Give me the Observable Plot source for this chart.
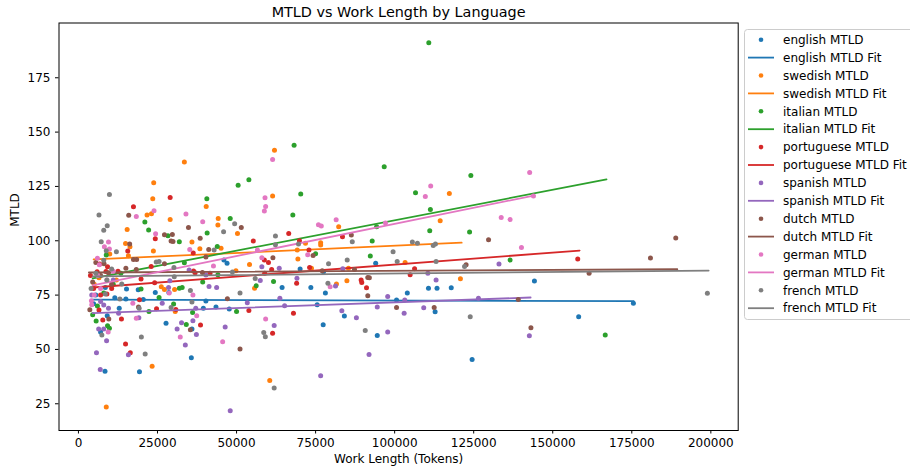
<!DOCTYPE html>
<html>
<head>
<meta charset="utf-8">
<script src="https://cdn.jsdelivr.net/npm/d3@7"></script>
<script src="https://cdn.jsdelivr.net/npm/@observablehq/plot@0.6"></script>
<style>
  html, body { margin: 0; padding: 0; background: #fff; }
  #wrap { position: relative; width: 910px; height: 471px; overflow: hidden; font-family: "DejaVu Sans", sans-serif; }
  #chart { position: absolute; left: 0; top: 0; }
  #legend { position: absolute; left: 744px; top: 29px; }
</style>
</head>
<body>
<div id="wrap"><div id="chart"></div><div id="legend"></div></div>
<script>
const chartTitle = "MTLD vs Work Length by Language";
const xLabel = "Work Length (Tokens)";
const yLabel = "MTLD";
const languages = ["english", "swedish", "italian", "portuguese", "spanish", "dutch", "german", "french"];
const xTicks = [0, 25000, 50000, 75000, 100000, 125000, 150000, 175000, 200000];
const yTicks = [25, 50, 75, 100, 125, 150, 175];

// [work length (tokens), MTLD]
const english = [[15200,77.8],[18900,77.5],[28600,76.2],[64400,78.5],[47000,89.7],[46000,91.1],[15000,73.2],
  [24300,76.2],[12900,68.9],[39500,69.0],[43500,69.5],[47700,68.6],[35900,59.4],[35700,46.2],[8400,40.0],
  [19300,39.7],[7000,58.0],[9100,65.5],[27700,62.1],[40300,72.3],[70100,87.0],[73500,78.5],[77500,85.7],
  [94000,89.7],[78100,76.0],[100600,72.7],[104000,76.0],[110700,78.1],[113400,78.2],[117900,78.4],
  [75500,70.6],[84100,65.4],[112800,67.3],[77400,61.4],[94500,56.4],[124500,45.4],[144200,81.5],
  [175500,71.3],[158200,65.0],[5500,75],[8500,78.5],[11500,73.8],[20500,73.0],[4800,71]];
const swedish = [[33500,136.2],[62000,141.6],[23800,126.7],[23500,119.3],[61400,120.6],[21700,111.8],
  [23100,112.4],[40400,115.8],[29000,109.8],[44200,110.3],[44100,107.2],[15400,105.2],[35900,99.4],
  [50300,103.4],[14900,98.8],[16300,97.2],[9900,93.9],[23700,95.3],[15800,93.1],[38400,96.3],[45100,96.5],
  [54100,89.1],[49800,86.2],[26200,78.8],[27200,77.6],[30400,77.6],[55700,78.2],[30600,67.5],[60500,35.7],
  [8800,23.5],[23300,42.3],[117300,121.8],[114400,109.2],[82300,106.5],[76600,99.1],[76600,98.0],
  [71800,98.9],[69200,95.7],[69400,91.6],[73700,87.4],[85400,87.4],[103300,90.0],[120800,82.5],
  [81600,80.1],[84900,81.6],[5000,80],[6500,83],[12000,82]];
const italian = [[50500,125.6],[53900,128.1],[40600,119.3],[21000,108.6],[48000,110.3],[22200,104.9],
  [28300,102.3],[31900,99.5],[40700,103.6],[43900,97.4],[8800,93.4],[33500,89.9],[13400,85.0],[44100,84.4],
  [61700,81.3],[31900,78.1],[32800,78.5],[19800,77.8],[39300,81.0],[56200,79.3],[25500,73.9],[30100,70.9],
  [22300,67.5],[50000,67.5],[36100,67.0],[34100,61.5],[9200,60.9],[9800,59.7],[5600,63.1],[110800,191.1],
  [68200,143.9],[96700,134.1],[124100,130.0],[106600,122.1],[70300,121.5],[67800,111.8],[111300,114.4],
  [94300,106.5],[92900,99.9],[111100,104.6],[123700,104.0],[75000,94.0],[92300,93.0],[136500,91.1],
  [166600,56.6],[6000,70],[8000,76],[11000,80],[4500,66]];
const portuguese = [[29000,119.9],[17400,115.7],[24300,100.9],[55300,99.9],[66500,103.4],[15600,95.3],
  [36300,94.4],[58800,91.1],[60100,90.0],[23000,88.2],[6700,89.3],[9200,88.0],[8700,85.9],[5900,85.7],
  [36400,86.1],[36900,85.3],[41600,85.0],[61100,86.8],[58900,85.0],[19800,82.4],[24100,80.7],[19300,72.9],
  [30800,68.4],[24700,68.7],[53900,67.9],[38600,61.2],[61400,57.5],[14900,52.5],[16400,48.5],[7700,63.5],
  [13600,64.0],[6500,68.1],[7000,75],[9000,75.5],[83500,101.9],[69900,100.0],[72900,95.7],[73100,87.7],
  [106300,87.1],[104900,84.4],[69000,80.4],[89400,81.9],[89600,80.8],[91100,78.4],[68000,66.7],
  [157900,91.6],[4800,78],[10500,78],[3800,84],[12500,86]];
const spanish = [[35000,86.5],[40300,84.2],[58000,88.0],[63500,87.4],[57500,81.7],[28900,81.6],[28500,78.5],
  [41300,79.0],[43700,78.5],[63700,73.6],[26500,71.2],[12700,66.6],[19100,64.6],[53400,71.5],[65200,70.1],
  [37100,68.9],[36200,63.2],[32600,62.3],[31200,59.4],[37300,56.9],[33800,52.0],[46400,60.3],[61900,61.0],
  [48000,21.8],[5700,48.5],[6900,40.8],[15800,47.5],[8900,54.0],[6400,59.4],[8000,59.4],[83600,87.1],
  [110500,85.1],[133000,89.3],[69100,82.8],[81300,79.2],[97800,74.4],[103200,72.7],[113100,81.9],
  [126500,73.5],[83300,67.8],[87900,64.6],[94500,69.5],[103000,66.7],[109200,69.2],[97800,58.0],
  [91900,47.7],[76600,37.9],[142600,56.3],[7000,72],[8000,70.5],[9500,69],[4200,75],[11000,82]];
const dutch = [[15900,111.7],[51500,106.1],[34800,106.1],[27200,102.8],[29700,102.9],[29300,99.9],
  [29900,99.7],[38500,101.2],[16200,98.5],[17400,91.4],[18400,91.4],[41200,96.0],[40300,92.5],[61500,92.2],
  [27200,89.4],[15000,87.4],[18300,86.8],[8100,89.4],[9500,85.3],[39200,85.4],[47100,73.3],[51100,50.2],
  [35400,59.1],[3600,68.3],[9600,64.0],[19000,69.5],[86300,102.6],[129700,100.5],[74200,93.2],[77100,86.2],
  [87300,86.8],[122600,89.0],[91500,83.1],[92000,83.0],[91500,74.7],[100600,69.3],[112500,69.3],
  [161500,85.0],[139100,73.0],[143100,60.0],[188900,101.3],[180900,92.1],[4500,81],[7000,84],[10500,80],[5500,90]];
const german = [[61400,137.4],[59000,119.8],[59200,115.8],[58800,113.7],[18300,111.2],[23900,113.8],
  [34000,112.3],[24400,103.2],[39300,108.8],[9500,99.4],[8200,97.2],[9800,96.2],[35200,96.0],[42700,88.4],
  [56600,95.7],[58000,92.2],[6600,89.0],[6100,84.0],[36200,75.0],[17200,71.3],[18300,64.3],[37400,65.5],
  [32200,55.7],[45600,53.5],[59200,64.0],[9400,58.0],[4100,72.4],[4200,70.6],[111400,125.2],[109700,120.4],
  [81500,109.7],[133700,110.7],[136500,109.8],[142700,131.4],[143900,120.6],[75900,107.4],[76800,106.8],
  [97100,108.2],[72500,93.6],[79600,78.8],[140100,96.9],[5000,75],[7000,78],[28700,76],[9000,82],[6000,92],[11000,86]];
const french = [[9800,121.3],[6500,111.8],[49400,107.8],[8000,104.8],[9100,106.9],[45900,104.2],[62300,102.2],
  [7200,99.5],[8800,95.4],[42900,95.7],[24600,90.2],[25500,90.5],[30200,87.7],[48700,85.6],[55900,82.6],
  [30300,83.4],[13700,80.1],[35400,77.1],[51100,76.0],[62300,98.2],[13100,73.2],[35900,71.8],[29300,69.3],
  [19200,68.9],[19900,55.7],[7400,56.6],[21100,47.9],[58600,57.8],[59100,55.8],[61900,32.2],[8500,75.5],
  [86600,99.5],[105600,99.4],[107200,98.9],[112200,97.8],[112900,98.5],[69600,98.5],[99500,95.0],
  [79100,89.4],[85000,91.1],[100800,90.5],[113100,90.5],[122100,88.2],[78900,80.5],[123900,65.0],
  [90700,58.7],[198900,75.8],[5500,85],[9000,82],[10500,87],[8000,91],[4000,78],[12000,95]];

// linear fit segments: start/end work length and fitted MTLD
const fitX0 = [4500, 4800, 4500, 4500, 4500, 3300, 4500, 4500];
const fitX1 = [175600, 121200, 167000, 158500, 143000, 189400, 144000, 199300];
const fitY0 = [72.9, 91.4, 82.7, 78.5, 66.7, 85.4, 79.5, 83.6];
const fitY1 = [72.2, 99.1, 128.2, 95.5, 73.9, 86.9, 120.8, 86.3];

const palette = ["#1f77b4", "#ff7f0e", "#2ca02c", "#d62728", "#9467bd", "#8c564b", "#e377c2", "#7f7f7f"];
const seriesData = [english, swedish, italian, portuguese, spanish, dutch, german, french];

const marks = [];
languages.forEach((lang, i) => {
  marks.push(Plot.dot(seriesData[i], {x: d => d[0], y: d => d[1], r: 2.5, fill: palette[i]}));
  const fit = [[fitX0[i], fitY0[i]], [fitX1[i], fitY1[i]]];
  marks.push(Plot.line(fit, {x: d => d[0], y: d => d[1], stroke: palette[i], strokeWidth: 1.8}));
});

const plot = Plot.plot({
  width: 910,
  height: 471,
  marginLeft: 58.5,
  marginRight: 172.3,
  marginTop: 22.5,
  marginBottom: 41,
  style: {fontFamily: "DejaVu Sans", fontSize: "12px", color: "black", background: "white"},
  x: {domain: [-6150, 208650]},
  y: {domain: [12.7, 200.2]},
  marks: [
    ...marks,
    Plot.frame({stroke: "black", strokeWidth: 1}),
    Plot.axisX({ticks: xTicks, tickFormat: d3.format("d"), tickSize: 3.5, tickPadding: 4.7, label: null, fontSize: 12}),
    Plot.axisY({ticks: yTicks, tickFormat: d3.format("d"), tickSize: 3.5, tickPadding: 5, label: null, fontSize: 12}),
    Plot.text([chartTitle], {text: d => d, frameAnchor: "top", lineAnchor: "bottom", dy: -6.5, fontSize: 14.4, fill: "black"}),
    Plot.text([xLabel], {text: d => d, frameAnchor: "bottom", lineAnchor: "bottom", dy: 32, fontSize: 12, fill: "black"}),
    Plot.text([yLabel], {text: d => d, frameAnchor: "left", rotate: -90, dx: -43.5, fontSize: 12, fill: "black"})
  ]
});
document.getElementById("chart").appendChild(plot);

// legend
const lg = d3.select("#legend").append("svg").attr("width", 170).attr("height", 292)
  .style("font-family", "DejaVu Sans").style("font-size", "12px");
lg.append("rect").attr("x", 0.5).attr("y", 0.5).attr("width", 220).attr("height", 290)
  .attr("rx", 3).attr("fill", "rgba(255,255,255,0.8)").attr("stroke", "#cccccc");
languages.forEach((lang, i) => {
  const y1 = 10.7 + (2 * i) * 17.9;
  const y2 = y1 + 17.9;
  lg.append("circle").attr("cx", 17).attr("cy", y1).attr("r", 2.3).attr("fill", palette[i]);
  lg.append("text").attr("x", 39).attr("y", y1).attr("dy", "0.35em").attr("fill", "black").text(lang + " MTLD");
  lg.append("line").attr("x1", 4).attr("x2", 30).attr("y1", y2).attr("y2", y2)
    .attr("stroke", palette[i]).attr("stroke-width", 1.8);
  lg.append("text").attr("x", 39).attr("y", y2).attr("dy", "0.35em").attr("fill", "black").text(lang + " MTLD Fit");
});
</script>
</body>
</html>
